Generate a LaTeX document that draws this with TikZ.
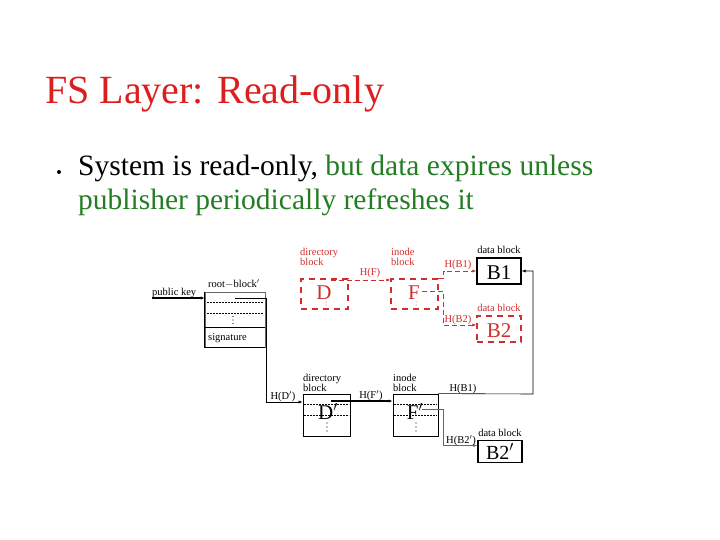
\documentclass[tikz,border=0pt]{standalone}
\usepackage{fontspec}
\setmainfont{Liberation Serif}
\usetikzlibrary{arrows.meta}
\definecolor{tred}{RGB}{220,30,30}
\definecolor{tgreen}{RGB}{35,125,35}
\definecolor{ored}{RGB}{210,45,45}
\begin{document}
\begin{tikzpicture}[x=1pt,y=-1pt,
  lbl/.style={font=\fontsize{10.5}{10}\selectfont, inner sep=0pt},
  big/.style={font=\fontsize{21}{22}\selectfont, inner sep=0pt},
  blk/.style={draw, line width=0.8pt, inner sep=0pt},
  oldblk/.style={draw=ored, line width=1.4pt, dash pattern=on 6pt off 5pt, inner sep=0pt},
  rowline/.style={line width=0.5pt, dash pattern=on 2pt off 1pt},
  arr/.style={-{Latex[length=4pt,width=3.2pt]}, line width=0.6pt},
  oarr/.style={-{Latex[length=4pt,width=3.2pt]}, line width=0.9pt, draw=ored, dash pattern=on 5pt off 3pt}]
\useasboundingbox (0,0) rectangle (720,540);

% title and bullet
\node[anchor=base west, text=tred, font=\fontsize{40}{48}\selectfont, inner sep=0pt] (title) at (45,104) {FS Layer: Read-only};
\node[circle, fill=black, inner sep=0pt, minimum size=4pt] (dot) at (59,172) {};
\node[anchor=base west, font=\fontsize{29.5}{34}\selectfont, inner sep=0pt] (l1) at (78,176) {System is read-only, \textcolor{tgreen}{but data expires unless}};
\node[anchor=base west, font=\fontsize{29.5}{34}\selectfont, inner sep=0pt, text=tgreen] (l2) at (78,210) {publisher periodically refreshes it};

% root block
\node[draw=black!60, line width=0.6pt, minimum width=60pt, minimum height=55pt, inner sep=0pt] (root) at (235,319.5) {};
\draw[line width=1.5pt] (root.north west) -- (root.south west) -- (root.south east);
\draw[rowline] (207,302) -- (263,302);
\draw[rowline] (207,313) -- (263,313);
\foreach \yy in {316.5,320,323.5} \fill (233,\yy) circle[radius=0.6pt];
\draw[line width=0.6pt] (205,327) -- (265,327);
\node[lbl, anchor=west] (sig) at (208,338) {signature};
\node[lbl, anchor=base] (rootlbl) at (234,287) {root$-$block$'$};
\node[lbl, anchor=base west] (pk) at (152,295) {public key};
\coordinate (pkstart) at (152,298);
\draw[arr, line width=1.3pt] (pkstart) -- (root.west |- pkstart);

% directory block (new)
\node[blk, minimum width=47pt, minimum height=42pt] (dir) at (326.5,415) {};
\draw[rowline] (304,404) -- (349,404);
\draw[rowline] (304,415) -- (349,415);
\node[big, anchor=base] (D) at (328,419) {D$'$};
\foreach \yy in {423,427,431} \fill (327,\yy) circle[radius=0.6pt];
\node[lbl, anchor=south west, align=left] (dirlbl) at (303,392) {directory\\block};

\coordinate (rs) at (235,298);
\draw[arr] (rs) -- (266,298) |- ([yshift=13pt]dir.west);
\node[lbl, anchor=base] (hd) at (283,399) {H(D$'$)};

% inode block (new)
\node[blk, minimum width=45pt, minimum height=42pt] (ino) at (415.5,415) {};
\draw[rowline] (394,404) -- (437,404);
\draw[rowline] (394,415) -- (437,415);
\node[big, anchor=base] (F) at (415,419) {F$'$};
\foreach \yy in {423,427,431} \fill (416,\yy) circle[radius=0.6pt];
\node[lbl, anchor=south west, align=left] (inolbl) at (393,392) {inode\\block};

\coordinate (hfs) at (331,401);
\draw[arr, line width=1.6pt] (hfs) -- ([yshift=14pt]ino.west);
\node[lbl, anchor=base] (hf) at (371,398) {H(F$'$)};

% data blocks
\node[blk, line width=1.4pt, minimum width=44pt, minimum height=26pt] (B1) at (499,271) {};
\node[big, anchor=base] (B1t) at (499,279) {B1};
\node[lbl, anchor=base] (B1lbl) at (499,254) {data block};

\node[blk, line width=1.4pt, minimum width=44pt, minimum height=22pt] (B2) at (500,451.5) {};
\node[font=\fontsize{20}{22}\selectfont, inner sep=0pt, anchor=base] (B2t) at (500,459) {B2$'$};
\node[lbl, anchor=base] (B2lbl) at (500,436) {data block};

\draw[arr] (ino.north east) -- (533,394) |- (B1.east);
\node[lbl, anchor=base] (hb1) at (463,391) {H(B1)};

\coordinate (hb2s) at (422,409);
\draw[arr, draw=black!60] (hb2s) -- (443,409) |- ([yshift=6pt]B2.west);
\node[lbl, anchor=base] (hb2) at (461,443) {H(B2$'$)};

% old (expired) version in red
\node[oldblk, minimum width=47pt, minimum height=30pt] (odir) at (324.5,294) {};
\node[big, anchor=base, text=ored] (oD) at (324,299) {D};
\foreach \yy in {302,305} \fill[ored] (326,\yy) circle[radius=0.5pt];
\node[lbl, anchor=south west, align=left, text=ored] (odirlbl) at (300,266) {directory\\block};

\node[oldblk, minimum width=47pt, minimum height=30pt] (oino) at (414.5,294) {};
\node[big, anchor=base, text=ored] (oF) at (414,299) {F};
\foreach \yy in {302,305} \fill[ored] (416,\yy) circle[radius=0.5pt];
\node[lbl, anchor=south west, align=left, text=ored] (oinolbl) at (391,266) {inode\\block};

\coordinate (ohfs) at (331,280);
\draw[oarr] (ohfs) -- (oino.west |- ohfs);
\node[lbl, anchor=base, text=ored] (ohf) at (370,275) {H(F)};

\draw[oarr] (oino.north east) -- ++(5,0) |- (B1.west);
\node[lbl, anchor=base, text=ored] (ohb1) at (458,267) {H(B1)};

\node[oldblk, minimum width=44pt, minimum height=26pt] (ob2) at (499,329) {};
\node[big, anchor=base, text=ored] (oB2t) at (499,337) {B2};
\node[lbl, anchor=base, text=ored] (ob2lbl) at (499,311) {data block};

\coordinate (ohb2s) at (422,291);
\draw[oarr] (ohb2s) -- (443,291) |- ([yshift=4pt]ob2.west);
\node[lbl, anchor=base, text=ored] (ohb2) at (458,322) {H(B2)};
\end{tikzpicture}
\end{document}
